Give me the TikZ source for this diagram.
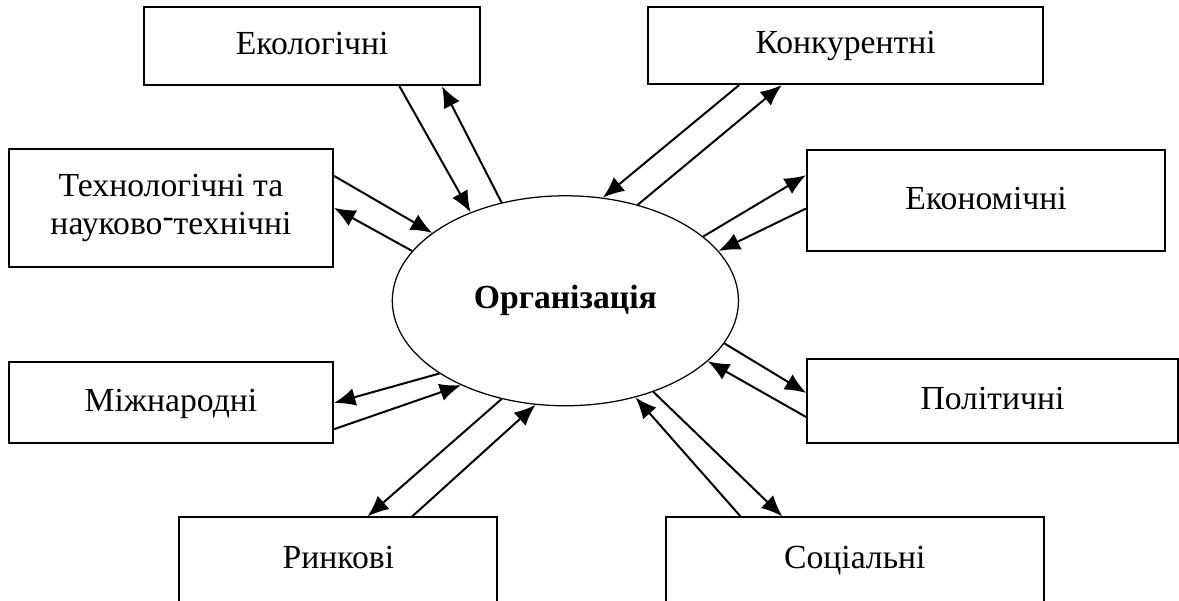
\documentclass[tikz,border=0pt]{standalone}
\usepackage{fontspec}
\setmainfont{Liberation Serif}
\usepackage{tikz}
\usetikzlibrary{arrows.meta,shapes.geometric,calc}

\begin{document}
\begin{tikzpicture}[>={Latex[length=3mm,width=2.5mm]},
    factor/.style={rectangle, draw=black, line width=0.8pt, fill=white, align=center, text height=2.1ex, text depth=0.6ex, font=\fontsize{13.5}{15.5}\selectfont},
    link/.style={->, line width=0.8pt}]
    \useasboundingbox (0,0) rectangle (16.62,8.46);
    % Define nodes
    \node [ellipse, draw=black, line width=0.5pt, minimum width=4.88cm, minimum height=2.96cm, font=\fontsize{13.5}{16}\selectfont\bfseries] (org) at (7.97,4.22) {Організація};
    \node [factor, minimum width=4.74cm, minimum height=1.10cm] (eko) at (4.40,7.81) {Екологічні};
    \node [factor, minimum width=5.57cm, minimum height=1.09cm] (kon) at (11.92,7.82) {Конкурентні};
    \node [factor, text height=, text depth=, minimum width=4.57cm, minimum height=1.66cm] (tech) at (2.41,5.53) {Технологічні та\\науково\raisebox{0.45ex}{-}технічні};
    \node [factor, minimum width=5.05cm, minimum height=1.42cm] (ekon) at (13.90,5.63) {Економічні};
    \node [factor, minimum width=4.57cm, minimum height=1.14cm] (mizh) at (2.41,2.78) {Міжнародні};
    \node [factor, minimum width=5.22cm, minimum height=1.18cm] (pol) at (13.99,2.81) {Політичні};
    \node [factor, minimum width=4.48cm, minimum height=1.21cm] (rynk) at (4.77,0.56) {Ринкові};
    \node [factor, minimum width=5.32cm, minimum height=1.21cm] (soc) at (12.05,0.56) {Соціальні};

    % Define arrows
    \draw[link] ([xshift=1.23cm]eko.south) -- (org.137);
    \draw[link] (org.123) -- ([xshift=1.83cm]eko.south);
    \draw[link] ([yshift=0.45cm]tech.east) -- (org.153);
    \draw[link] (org.162) -- (tech.east);
    \draw[link] ([xshift=-1.50cm]kon.south) -- (org.70);
    \draw[link] (org.53) -- ([xshift=-0.90cm]kon.south);
    \draw[link] (org.25) -- ([yshift=0.36cm]ekon.west);
    \draw[link] ([yshift=-0.11cm]ekon.west) -- (org.18);
    \draw[link] (org.210) -- (mizh.east);
    \draw[link] ([yshift=-0.37cm]mizh.east) -- (org.219);
    \draw[link] (org.237) -- ([xshift=0.41cm]rynk.north);
    \draw[link] ([xshift=1.04cm]rynk.north) -- (org.254);
    \draw[link] (org.345) -- ([yshift=0.11cm]pol.west);
    \draw[link] ([yshift=-0.23cm]pol.west) -- (org.337);
    \draw[link] (org.314) -- ([xshift=-1.02cm]soc.north);
    \draw[link] ([xshift=-1.61cm]soc.north) -- (org.306);
\end{tikzpicture}
\end{document}
